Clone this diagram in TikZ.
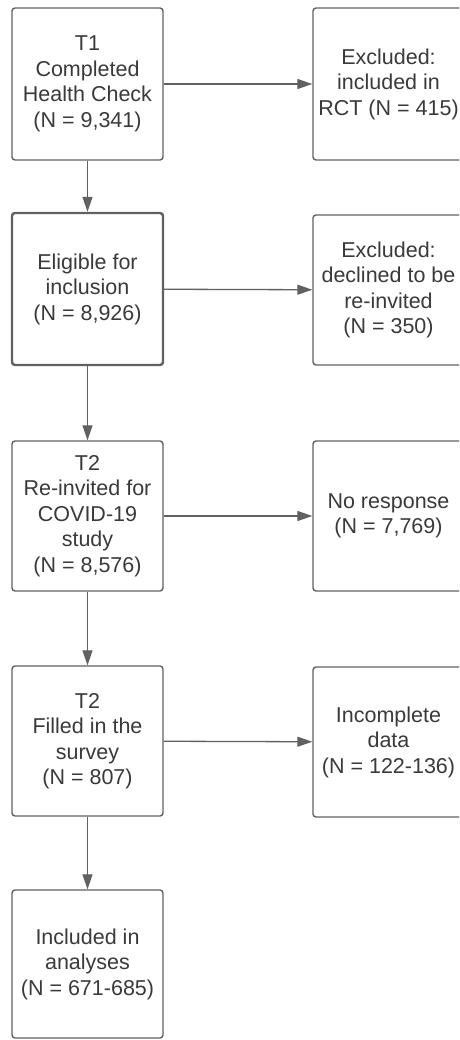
\documentclass[tikz,border=0pt]{standalone}
\usepackage{fontspec}
\setmainfont{Liberation Sans}
\usetikzlibrary{arrows.meta}
\definecolor{linegray}{HTML}{616161}
\definecolor{textgray}{HTML}{3A3A3A}

\begin{document}
\begin{tikzpicture}[>={Triangle[length=15pt,width=10pt]}, x=1pt, y=-1pt,
    box/.style={draw=linegray, line width=1.4pt, rounded corners=3pt, fill=white,
        text=textgray, align=center, inner sep=0pt, minimum width=151pt,
        font=\fontsize{21.5}{25.5}\selectfont},
    flow/.style={->, draw=linegray, line width=1.3pt}]
    % 0. Khung hình
    \clip (0,0) rectangle (459,1040);
    \fill[white] (0,0) rectangle (459,1040);

    % 1. Cột trái
    \node[box, minimum height=152pt] (t1) at (87.5,84) {T1\\Completed\\Health Check\\(N = 9,341)};
    \node[box, minimum height=152pt, line width=2.4pt] (elig) at (87.5,289) {Eligible for\\inclusion\\(N = 8,926)};
    \node[box, minimum height=150pt] (reinv) at (87.5,516) {T2\\Re-invited for\\COVID-19\\study\\(N = 8,576)};
    \node[box, minimum height=150pt] (survey) at (87.5,741) {T2\\Filled in the\\survey\\(N = 807)};
    \node[box, minimum height=148pt] (incl) at (87.5,964) {Included in\\analyses\\(N = 671-685)};

    % 2. Cột phải (bị cắt ở mép phải)
    \node[box, minimum height=152pt] (rct) at (388.5,84) {Excluded:\\included in\\RCT (N = 415)};
    \node[box, minimum height=150pt] (declined) at (388.5,290) {Excluded:\\declined to be\\re-invited\\(N = 350)};
    \node[box, minimum height=150pt] (noresp) at (388.5,516) {No response\\(N = 7,769)};
    \node[box, minimum height=150pt] (incompl) at (388.5,742) {Incomplete\\data\\(N = 122-136)};

    % 3. Mũi tên dọc
    \draw[flow] (t1) -- (elig);
    \draw[flow] (elig) -- (reinv);
    \draw[flow] (reinv) -- (survey);
    \draw[flow] (survey) -- (incl);

    % 4. Mũi tên ngang
    \draw[flow] (t1) -- (rct);
    \draw[flow] (elig) -- (declined);
    \draw[flow] (reinv) -- (noresp);
    \draw[flow] (survey) -- (incompl);
\end{tikzpicture}
\end{document}
